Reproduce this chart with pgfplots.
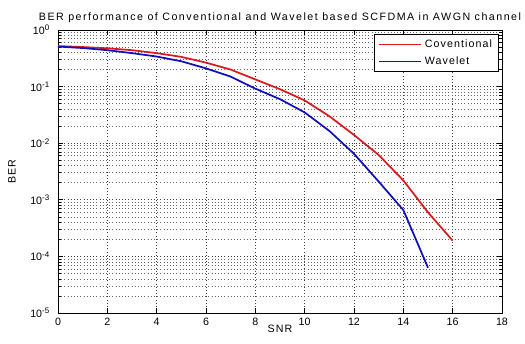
\documentclass[border=0pt]{standalone}
\usepackage{fontspec}
\setmainfont{Liberation Sans}
\newfontfamily\titlefont[LetterSpace=14]{Liberation Sans}
\newfontfamily\legfont[LetterSpace=10]{Liberation Sans}
\usepackage{pgfplots}
\pgfplotsset{compat=1.18}
\usetikzlibrary{calc}
\definecolor{mred}{RGB}{220,25,30}
\definecolor{mblue}{RGB}{15,15,190}
\begin{document}
\begin{tikzpicture}[font=\fontsize{8}{9.6}\selectfont]
\begin{axis}[
  name=ax,
  scale only axis,
  width=333pt, height=212.25pt,
  ymode=log,
  xmin=0, xmax=18, ymin=1e-5, ymax=1,
  xtick={0,2,...,18},
  ytick={1e-5,1e-4,1e-3,1e-2,1e-1,1},
  yticklabels={10\textsuperscript{-5},10\textsuperscript{-4},10\textsuperscript{-3},10\textsuperscript{-2},10\textsuperscript{-1},10\textsuperscript{0}},
  /pgf/number format/assume math mode=true,
  xticklabel style={font=\fontsize{8}{9.6}\selectfont},
  yticklabel style={font=\fontsize{8}{9.6}\selectfont, xshift=-2.5pt},
  tick align=inside,
  major tick length=3.5pt,
  minor tick length=2pt,
  xmajorgrids, ymajorgrids, yminorgrids,
  major grid style={dotted, black!75, line width=0.5pt},
  minor grid style={dotted, black!60, line width=0.5pt},
  axis line style={black, line width=0.6pt},
  every tick/.style={black, line width=0.5pt},
  xlabel={\legfont SNR}, ylabel={\legfont BER},
  xlabel style={at={(axis description cs:0.5,0)}, anchor=base, yshift=-14.25pt},
  ylabel style={at={(axis description cs:-0.1036,0.5)}, anchor=center},
  legend style={at={(0.993,0.986)}, anchor=north east, draw=black, line width=0.5pt,
    font=\legfont\fontsize{8}{9.6}\selectfont, inner xsep=3pt, inner ysep=2pt, row sep=1.5pt,
    legend cell align=left},
  legend image code/.code={\draw[#1] (0pt,0pt) -- (31.5pt,0pt);},
]
\addplot[mred, line width=1.3pt] coordinates {
(0,0.52) (1,0.50) (2,0.475) (3,0.44) (4,0.39) (5,0.335) (6,0.265) (7,0.2)
(8,0.134) (9,0.09) (10,0.057) (11,0.030) (12,0.014) (13,0.0062) (14,0.0022)
(15,0.0006) (16,0.00019)};
\addlegendentry{Coventional}
\addplot[mblue, line width=1.3pt] coordinates {
(0,0.51) (1,0.48) (2,0.44) (3,0.39) (4,0.34) (5,0.28) (6,0.21) (7,0.15)
(8,0.092) (9,0.06) (10,0.035) (11,0.0165) (12,0.0065) (13,0.0021) (14,0.00066)
(15,0.000063)};
\addlegendentry{Wavelet}
\coordinate (bl) at (rel axis cs:0,0);
\coordinate (tr) at (rel axis cs:1,1);
\coordinate (tc) at (rel axis cs:0.5,1);
\end{axis}
\node[anchor=base, font=\titlefont\fontsize{8}{9.6}\selectfont] at ([yshift=6.75pt]tc)
  {BER performance of Conventional and Wavelet based SCFDMA in AWGN channel};
\pgfresetboundingbox
\path ($(bl)+(-43.5pt,-22.5pt)$) rectangle ($(tr)+(17.25pt,22.5pt)$);
\end{tikzpicture}
\end{document}
